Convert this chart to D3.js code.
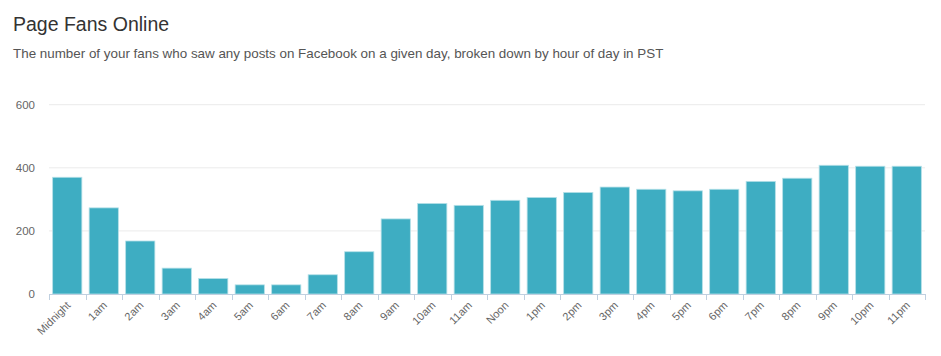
<!DOCTYPE html>
<html><head><meta charset="utf-8">
<script src="https://cdn.jsdelivr.net/npm/d3@7/dist/d3.min.js"></script>
<style>
body{margin:0;background:#fff;}
svg{display:block;font-family:"Liberation Sans",Arial,Helvetica,sans-serif;}
</style></head>
<body><svg id="chart" width="941" height="356"></svg>
<script>
const categories = ["Midnight","1am","2am","3am","4am","5am","6am","7am","8am","9am","10am","11am","Noon","1pm","2pm","3pm","4pm","5pm","6pm","7pm","8pm","9pm","10pm","11pm"];
const fansOnline = [370,273,168,82,49,29,29,61,134,238,287,281,297,306,322,339,332,327,332,357,367,408,405,405];
const yTicks = [0,200,400,600];

const svg = d3.select("#chart");
const x = d3.scaleBand().domain(categories).range([49, 925]).paddingInner(0.2).paddingOuter(0.1);
const y = d3.scaleLinear().domain([0,600]).range([294, 104.7]);

svg.append("text").attr("x",13).attr("y",31).attr("font-size",19.5).attr("fill","#333").text("Page Fans Online");
svg.append("text").attr("x",13).attr("y",58).attr("font-size",13.4).attr("fill","#555").text("The number of your fans who saw any posts on Facebook on a given day, broken down by hour of day in PST");

// gridlines
svg.append("g").selectAll("line").data(yTicks.filter(d=>d>0)).join("line")
  .attr("x1",49).attr("x2",925).attr("y1",d=>y(d)).attr("y2",d=>y(d))
  .attr("stroke","#ebebeb").attr("stroke-width",1);

// y labels
svg.append("g").selectAll("text").data(yTicks).join("text")
  .attr("x",35).attr("y",d=>y(d)+4).attr("text-anchor","end")
  .attr("font-size",11.5).attr("fill","#666").text(d=>d);

// bars
svg.append("g").selectAll("rect").data(fansOnline).join("rect")
  .attr("x",(d,i)=>x(categories[i]))
  .attr("y",d=>y(d))
  .attr("width",x.bandwidth())
  .attr("height",d=>y(0)-y(d))
  .attr("fill","#3eadc2")
  .attr("stroke","#b5e0e8").attr("stroke-width",0.8);

// x axis
const step = x.step();
svg.append("line").attr("x1",49).attr("x2",925).attr("y1",294.5).attr("y2",294.5).attr("stroke","#c0d0e0");
const bounds = d3.range(categories.length+1).map(i=>49+i*step);
svg.append("g").selectAll("line").data(bounds).join("line")
  .attr("x1",d=>Math.round(d)+0.5).attr("x2",d=>Math.round(d)+0.5).attr("y1",294).attr("y2",300)
  .attr("stroke","#c0d0e0");

svg.append("g").selectAll("text").data(categories).join("text")
  .attr("transform",d=>`translate(${x(d)+x.bandwidth()/2+4},${306}) rotate(-45)`)
  .attr("text-anchor","end").attr("font-size",11).attr("fill","#666").text(d=>d);
</script></body></html>
